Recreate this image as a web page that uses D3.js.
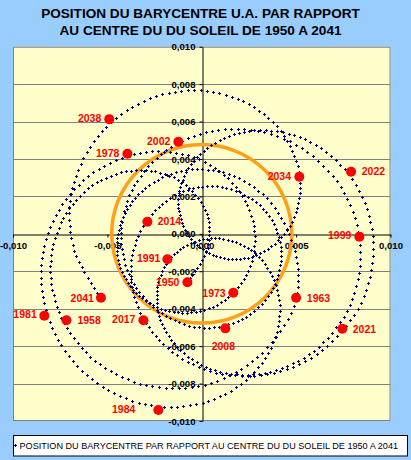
<!DOCTYPE html>
<html><head><meta charset="utf-8">
<script src="https://cdn.jsdelivr.net/npm/d3@7"></script>
<style>body{margin:0;background:#99CCFF}svg{display:block}</style>
</head><body><svg id="c" width="411" height="460"></svg>
<script>
// ---------- data ----------
const titleLines = ["POSITION DU BARYCENTRE U.A. PAR RAPPORT", "AU CENTRE DU DU SOLEIL DE 1950 A 2041"];
const legendText = "POSITION DU BARYCENTRE PAR RAPPORT AU CENTRE DU DU SOLEIL DE 1950 A 2041";
const xTicks = [-0.010, -0.005, 0.000, 0.005, 0.010];
const yTicks = [-0.010, -0.008, -0.006, -0.004, -0.002, 0.000, 0.002, 0.004, 0.006, 0.008, 0.010];
const sunRadius = 0.00477;
// barycentre path, one sample per 1st January, 1950 .. 2042
const sampleYears = d3.range(1950, 2043);
const barX = [-0.00078,0.00031,0.00018,-0.00125,-0.00348,-0.00580,-0.00746,-0.00802,-0.00730,-0.00539,
 -0.00261,0.00050,0.00321,0.00498,0.00485,0.00345,0.00114,-0.00137,-0.00337,-0.00441,
 -0.00432,-0.00315,-0.00127,0.00079,0.00235,0.00279,0.00182,-0.00041,-0.00328,-0.00601,
 -0.00790,-0.00853,-0.00779,-0.00582,-0.00301,0.00004,0.00258,0.00398,0.00393,0.00263,
 0.00069,-0.00115,-0.00225,-0.00227,-0.00113,0.00097,0.00362,0.00619,0.00797,0.00836,
 0.00716,0.00466,0.00155,-0.00136,-0.00342,-0.00427,-0.00386,-0.00235,-0.00014,0.00214,
 0.00378,0.00419,0.00326,0.00131,-0.00097,-0.00282,-0.00373,-0.00339,-0.00181,0.00075,
 0.00381,0.00665,0.00858,0.00905,0.00798,0.00576,0.00307,0.00070,-0.00083,-0.00124,
 -0.00056,0.00096,0.00287,0.00451,0.00521,0.00454,0.00250,-0.00039,-0.00338,-0.00573,
 -0.00693,-0.00676,-0.00534];
const barY = [-0.00257,-0.00077,0.00128,0.00289,0.00341,0.00260,0.00061,-0.00204,-0.00476,-0.00697,
 -0.00815,-0.00796,-0.00634,-0.00350,-0.00063,0.00190,0.00329,0.00330,0.00212,0.00022,
 -0.00182,-0.00345,-0.00420,-0.00379,-0.00221,0.00013,0.00251,0.00409,0.00433,0.00309,
 0.00068,-0.00234,-0.00535,-0.00777,-0.00910,-0.00903,-0.00758,-0.00522,-0.00272,-0.00088,
 -0.00023,-0.00082,-0.00238,-0.00437,-0.00621,-0.00737,-0.00737,-0.00603,-0.00348,-0.00026,
 0.00281,0.00494,0.00562,0.00480,0.00285,0.00032,-0.00217,-0.00407,-0.00500,-0.00455,
 -0.00289,-0.00068,0.00134,0.00246,0.00228,0.00086,-0.00141,-0.00393,-0.00611,-0.00741,
 -0.00742,-0.00599,-0.00334,-0.00009,0.00291,0.00492,0.00554,0.00487,0.00330,0.00140,
 -0.00028,-0.00126,-0.00114,0.00019,0.00245,0.00497,0.00693,0.00768,0.00696,0.00494,
 0.00211,-0.00090,-0.00341];
// labelled years
const markYears = [1950,1958,1963,1973,1978,1981,1984,1991,1999,2002,2008,2014,2017,2021,2022,2034,2038,2041];
const markX = [-0.00076,-0.00717,0.00500,0.00167,-0.00394,-0.00834,-0.00230,-0.00182,0.00835,-0.00124,0.00125,-0.00288,-0.00309,0.00745,0.00791,0.00517,-0.00490,-0.00534];
const markY = [-0.00259,-0.00462,-0.00341,-0.00315,0.00428,-0.00437,-0.00941,-0.00136,-0.00015,0.00492,-0.00505,0.00065,-0.00462,-0.00507,0.00332,0.00305,0.00613,-0.00341];

// ---------- layout / style ----------
const labelPlace = { // [anchor, dx, dy]
 1950:["end",-8,0],1958:["start",11,0],1963:["start",10.7,0],1973:["end",-7.6,0],
 1978:["end",-8,-1],1981:["end",-7.6,-1.5],1984:["end",-23,-1],1991:["end",-7,-1],
 1999:["end",-8,-1.5],2002:["end",-8,-1],2008:["middle",-2,17.4],2014:["start",10.4,-1],
 2017:["end",-8,-1],2021:["start",10.4,0],2022:["start",10.7,-1],2034:["end",-8.3,-1],
 2038:["end",-8,-1],2041:["end",-7,0]};
const plot = {l:13, r:390.5, t:46.7, b:421};
const fmt = d3.formatLocale({decimal:",",thousands:" ",grouping:[3],currency:["",""],minus:"-"}).format(".3f");
const FONT = "'Liberation Sans', Arial, sans-serif";

const svg = d3.select("#c");
svg.append("rect").attr("width",411).attr("height",460).attr("fill","#99CCFF");

const x = d3.scaleLinear().domain([-0.010,0.010]).range([plot.l,plot.r]);
const y = d3.scaleLinear().domain([-0.010,0.010]).range([plot.b,plot.t]);

// title
svg.append("g").selectAll("text").data(titleLines).join("text")
  .attr("x",200.5).attr("y",(d,i)=>17.5+i*17.5).attr("text-anchor","middle")
  .attr("font-family",FONT).attr("font-weight","bold").attr("font-size","13.6px").attr("fill","#000")
  .text(d=>d);

// plot area
svg.append("rect").attr("x",plot.l).attr("y",plot.t).attr("width",plot.r-plot.l).attr("height",plot.b-plot.t)
  .attr("fill","#FFFFCC");
svg.append("g").selectAll("line").data(yTicks.filter(v=>v!==0 && Math.abs(v)<0.0099)).join("line")
  .attr("x1",plot.l).attr("x2",plot.r).attr("y1",d=>Math.round(y(d))+0.5).attr("y2",d=>Math.round(y(d))+0.5)
  .attr("stroke","#808080").attr("stroke-width",1);
svg.append("rect").attr("x",plot.l+0.5).attr("y",plot.t+0.5).attr("width",plot.r-plot.l-1).attr("height",plot.b-plot.t-1)
  .attr("fill","none").attr("stroke","#808080");

// axes
const yAx = svg.append("g").attr("transform",`translate(${Math.round(x(0))+0.5},0)`)
  .call(d3.axisLeft(y).tickValues(yTicks).tickFormat(fmt).tickSize(3).tickSizeOuter(0).tickPadding(4));
const xAx = svg.append("g").attr("transform",`translate(0,${Math.round(y(0))+0.5})`)
  .call(d3.axisBottom(x).tickValues(xTicks).tickFormat(fmt).tickSize(3).tickSizeOuter(0).tickPadding(5));
[yAx,xAx].forEach(g=>{
  g.selectAll("path,line").attr("stroke","#000");
  g.selectAll("text").attr("font-family",FONT).attr("font-weight","bold").attr("font-size","9.6px").attr("fill","#000");
});

// sun
svg.append("ellipse").attr("cx",x(0)).attr("cy",y(0))
  .attr("rx",x(sunRadius)-x(0)).attr("ry",y(0)-y(sunRadius))
  .attr("fill","none").attr("stroke","#FF9F1A").attr("stroke-width",3.5);

// barycentre path: "+" markers spread along the smooth curve through the yearly samples
const pts = barX.map((v,i)=>[x(v), y(barY[i])]);
const line = d3.line().curve(d3.curveCatmullRom.alpha(0.5));
const probe = svg.append("path").attr("fill","none").attr("stroke","none").node();
const perYear = 9;
let dStr = "";
const cross = (px,py)=>{ const cx=Math.round(px), cy=Math.round(py);
  return `M${cx-1},${cy}h3v1h-3zM${cx},${cy-1}h1v3h-1z`; };
for (let i=0;i<pts.length-1;i++){
  const a = Math.max(0,i-1), b = Math.min(pts.length-1,i+2);
  const parts = line(pts.slice(a,b+1)).split("C");
  const k = (i===0) ? 1 : 2;
  if (!parts[k]) continue;
  probe.setAttribute("d", `M${pts[i][0]},${pts[i][1]}C${parts[k]}`);
  const L = probe.getTotalLength();
  for (let j=0;j<perYear;j++){
    const p = probe.getPointAtLength(L*j/perYear);
    dStr += cross(p.x,p.y);
  }
}
dStr += cross(pts[pts.length-1][0], pts[pts.length-1][1]);
svg.append("path").attr("d",dStr).attr("fill","#000080").attr("shape-rendering","crispEdges");

// red year markers
const marks = markYears.map((yr,i)=>({yr, px:x(markX[i]), py:y(markY[i])}));
svg.append("g").selectAll("circle").data(marks).join("circle")
  .attr("cx",d=>d.px).attr("cy",d=>d.py).attr("r",5).attr("fill","#FF0000");
svg.append("g").selectAll("text").data(marks).join("text")
  .attr("x",d=>d.px+labelPlace[d.yr][1]).attr("y",d=>d.py+labelPlace[d.yr][2])
  .attr("text-anchor",d=>labelPlace[d.yr][0]).attr("dominant-baseline","central")
  .attr("font-family",FONT).attr("font-weight","bold").attr("font-size","10.5px").attr("fill","#FF0000")
  .text(d=>d.yr);

// legend
svg.append("rect").attr("x",13.5).attr("y",435.5).attr("width",394).attr("height",20.5)
  .attr("fill","#FFFFFF").attr("stroke","#000").attr("stroke-width",1);
svg.append("path").attr("d","M14,445h3v1h-3zM15,444h1v3h-1z").attr("fill","#000080").attr("shape-rendering","crispEdges");
svg.append("text").attr("x",19.5).attr("y",449).attr("font-family",FONT).attr("font-size","9.1px").attr("fill","#000")
  .text(legendText);
</script>
</body></html>
